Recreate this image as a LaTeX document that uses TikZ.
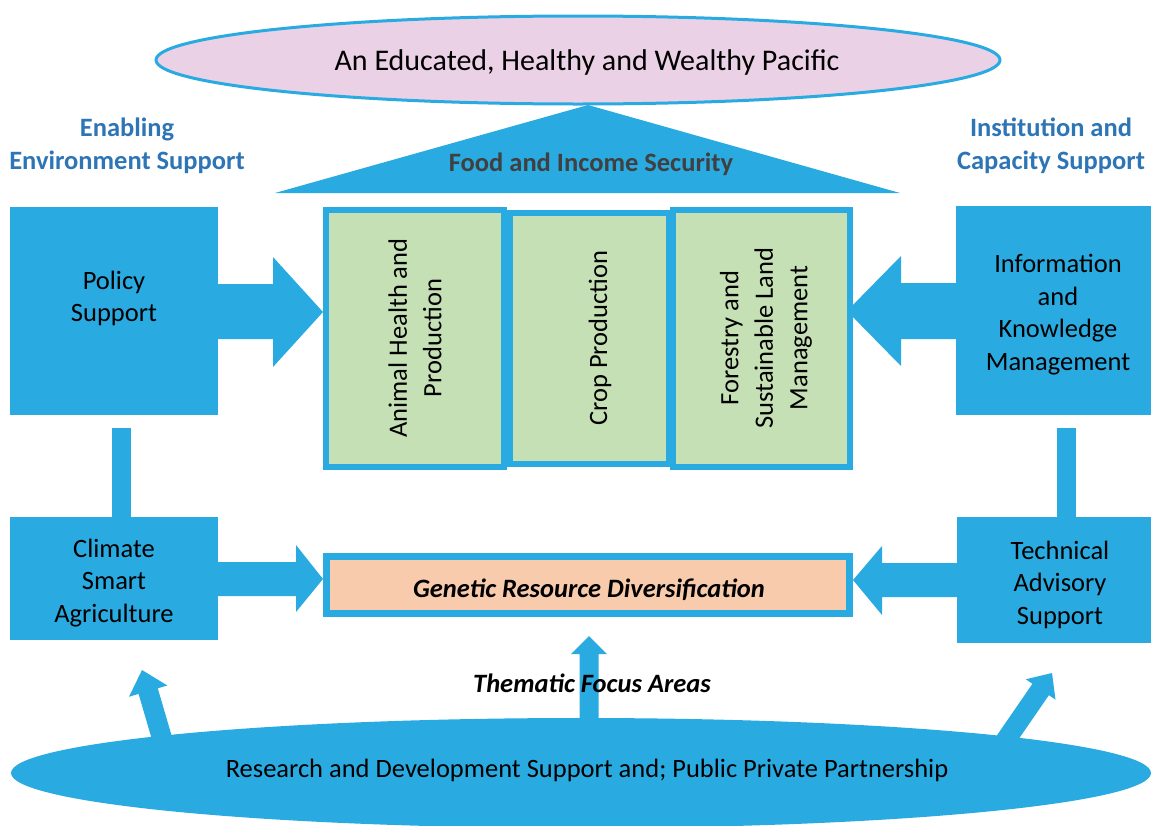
\documentclass[tikz,border=0pt]{standalone}
\usepackage{fontspec}
\setmainfont{Carlito}
\usetikzlibrary{calc,shapes.geometric}
\definecolor{sky}{RGB}{41,171,226}
\definecolor{headblue}{RGB}{46,117,182}
\definecolor{pinkfill}{RGB}{235,209,229}
\definecolor{greenfill}{RGB}{197,224,180}
\definecolor{peach}{RGB}{248,203,173}
\definecolor{darktext}{RGB}{64,64,64}
\newcommand\blockarr[6]{% base, tip, shaft half, head half, head length, name
  \coordinate (#6h) at ($(#2)!#5!(#1)$);
  \fill[sky] ($(#1)!#3!90:(#2)$) -- ($(#6h)!#3!90:(#2)$) -- ($(#6h)!#4!90:(#2)$) -- (#2)
    -- ($(#6h)!#4!-90:(#2)$) -- ($(#6h)!#3!-90:(#2)$) -- ($(#1)!#3!-90:(#2)$) -- cycle;}
\begin{document}
\begin{tikzpicture}[x=1pt,y=-1pt,
  sidebox/.style={fill=sky, draw=none, inner sep=0pt},
  sidetext/.style={align=center, text=black, inner sep=0pt, font=\fontsize{26.5}{32.5}\selectfont},
  areabox/.style={fill=greenfill, draw=sky, line width=6pt, inner sep=0pt},
  vtext/.style={rotate=90, align=center, inner sep=0pt, font=\fontsize{26.5}{34.5}\selectfont},
  heading/.style={align=center, text=headblue, inner sep=0pt, font=\bfseries\fontsize{26.5}{33}\selectfont},
  bitext/.style={inner sep=0pt, font=\bfseries\itshape\fontsize{26.5}{30}\selectfont},
]
\useasboundingbox (0,0) rectangle (1151,825);

% bottom ellipse
\node[ellipse, fill=sky, draw=none, minimum width=1140pt, minimum height=110pt, inner sep=0pt] (rd) at (581,773) {};
\node[font=\fontsize{26.5}{30}\selectfont, inner sep=0pt] (rdtext) at (587,770)
  {Research and Development Support and; Public Private Partnership};

% top ellipse
\node[ellipse, fill=pinkfill, draw=sky, line width=3pt, minimum width=844pt, minimum height=88pt,
  inner sep=0pt] (goal) at (578,60) {};
\node[inner sep=0pt, font=\fontsize{30}{34}\selectfont] (goaltext) at (587,62)
  {An Educated, Healthy and Wealthy Pacific};

% roof
\fill[sky] (588,105) coordinate (apex) -- (900,193) -- (275,193) -- cycle;
\node[text=darktext, inner sep=0pt, font=\bfseries\fontsize{26.5}{30}\selectfont] (food) at (591,164)
  {Food and Income Security};

% headings
\node[heading] (enab) at (127,146) {Enabling\\Environment Support};
\node[heading] (inst) at (1051,146) {Institution and\\Capacity Support};

% side boxes
\node[sidebox, minimum width=208pt, minimum height=208pt] (policy) at (114,311) {};
\node[sidetext] (policyt) at (114,298.5) {Policy\\Support};
\node[sidebox, minimum width=195pt, minimum height=209pt] (info) at (1053.5,310.5) {};
\node[sidetext] (infot) at (1058,314.5) {Information\\and\\Knowledge\\Management};
\node[sidebox, minimum width=208pt, minimum height=123pt] (climate) at (114,578.5) {};
\node[sidetext] (climatet) at (114,583) {Climate\\Smart\\Agriculture};
\node[sidebox, minimum width=194pt, minimum height=126pt] (tech) at (1054,580) {};
\node[sidetext] (techt) at (1060,584.5) {Technical\\Advisory\\Support};

% vertical connectors
\fill[sky] (112,428) rectangle (131,517);
\fill[sky] (1057,428) rectangle (1076,517);

% central thematic boxes
\node[areabox, minimum width=159pt, minimum height=251pt] (crop) at (589.5,338.5) {};
\node[areabox, minimum width=178pt, minimum height=257pt] (animal) at (415,338.5) {};
\node[areabox, minimum width=177pt, minimum height=257pt] (forest) at (761.5,338.5) {};
\node[vtext] (animalt) at (415,338) {Animal Health and\\Production};
\node[vtext] (cropt) at (600,338) {Crop Production};
\node[vtext] (forestt) at (766,338) {Forestry and\\Sustainable Land\\Management};

% genetic
\node[fill=peach, draw=sky, line width=7pt, minimum width=523pt, minimum height=57pt, inner sep=0pt] (gen) at (588,585) {};
\node[bitext] (gent) at (589,590) {Genetic Resource Diversification};

% horizontal block arrows
\fill[sky] (218,284) -- (273,284) -- (273,257) -- (323,312) -- (273,367) -- (273,339) -- (218,339) -- cycle;
\fill[sky] (956,283) -- (901,283) -- (901,256) -- (847,311) -- (901,366) -- (901,339) -- (956,339) -- cycle;
\fill[sky] (218,562) -- (296,562) -- (296,545) -- (323,579) -- (296,612) -- (296,596) -- (218,596) -- cycle;
\fill[sky] (957,563) -- (882,563) -- (882,546) -- (853,580) -- (882,615) -- (882,597) -- (957,597) -- cycle;

% upward arrows from bottom ellipse
\coordinate (lb) at (166,752); \coordinate (lt) at (142,670);
\coordinate (rb) at (999,750); \coordinate (rt) at (1052,673);
\coordinate (cb) at (589,730); \coordinate (ct) at (589,636);
\blockarr{lb}{lt}{10pt}{20pt}{22pt}{la}
\blockarr{rb}{rt}{10pt}{18pt}{20pt}{ra}
\blockarr{cb}{ct}{9.5pt}{18pt}{18pt}{ca}

\node[bitext] (thema) at (592,683) {Thematic Focus Areas};
\end{tikzpicture}
\end{document}
